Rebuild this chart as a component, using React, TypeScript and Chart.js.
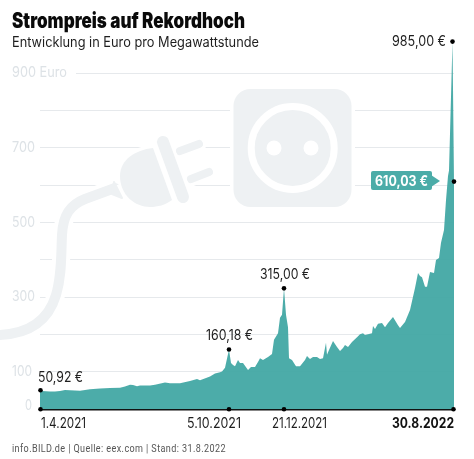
import React, { useEffect, useRef } from 'react';
import Chart from 'chart.js/auto';

// x is the position along the (non-linear) time axis, one unit = one pixel of the axis
const sessions = [
  0, 2, 10, 15, 20, 25, 30, 40, 50, 60, 70, 80, 85, 90, 93, 97, 100, 110, 115, 125, 130, 140, 150, 157, 160, 170, 175,
  180, 182, 185, 189, 191, 193, 195, 198, 200, 203, 208, 211, 215, 218, 220, 223, 228, 232, 234, 238, 240, 242, 244,
  246, 248, 249, 252, 256, 260, 265, 267, 270, 273, 277, 280, 283, 286, 287, 289, 293, 297, 300, 303, 305, 308, 312,
  317, 320, 323, 325, 332, 333, 335, 338, 342, 345, 348, 353, 358, 360, 365, 370, 375, 378, 380, 382, 385, 387, 390,
  394, 396, 399, 401, 404, 406, 408, 409, 412.5, 414,
];
const prices = [
  50.92, 49, 48, 48, 49, 52, 51, 50, 54, 56, 57, 58, 61, 66, 65, 62, 64, 64, 66, 72, 70, 70, 76, 81, 78, 88, 96,
  99, 101, 111, 160.18, 124, 119, 115, 132, 124, 124, 105, 113, 113, 127, 137, 132, 140, 148, 186, 204, 245, 253, 324,
  253, 220, 137, 132, 115, 115, 132, 143, 135, 140, 140, 135, 137, 178, 146, 159, 183, 167, 156, 164, 172, 167, 180,
  193, 201, 204, 199, 204, 223, 215, 229, 231, 220, 231, 247, 225, 218, 234, 266, 325, 365, 357, 354, 328, 328, 368,
  365, 400, 405, 446, 480, 561, 625, 640, 985, 610.03,
];

const markerSessions = [0.5, 189, 244, 412.5, 414];
const markerPrices = [50.92, 160.18, 324, 985, 610.03];
const markerLabels = ['50,92 €', '160,18 €', '315,00 €', '985,00 €', '610,03 €'];

const dateSessions = [0.5, 189, 244, 413.5];
const dateLabels = ['1.4.2021', '5.10.2021', '21.12.2021', '30.8.2022'];

const yTicks = [0, 100, 300, 500, 700, 900];
const yTickLabels = ['0', '100', '300', '500', '700', '900 Euro'];

const title = 'Strompreis auf Rekordhoch';
const subtitle = 'Entwicklung in Euro pro Megawattstunde';
const source = 'info.BILD.de | Quelle: eex.com | Stand: 31.8.2022';

const TEAL = '#4bacA8';
const ICON = '#eef1f3';
const GRID = '#e6e9ec';
const TICK = '#dde2e6';

// text squeezed or stretched to the width it has in the picture
function fitText(
  ctx: CanvasRenderingContext2D,
  text: string,
  x: number,
  y: number,
  width: number,
  font: string,
  color: string,
  spacing = '0px',
) {
  ctx.save();
  ctx.font = font;
  ctx.fillStyle = color;
  ctx.textAlign = 'left';
  ctx.textBaseline = 'alphabetic';
  (ctx as any).letterSpacing = spacing;
  const natural = ctx.measureText(text).width;
  ctx.translate(x, y);
  ctx.scale(width / natural, 1);
  ctx.fillText(text, 0, 0);
  ctx.restore();
}

function stroke(ctx: CanvasRenderingContext2D, path: Path2D, color: string, width: number) {
  ctx.strokeStyle = color;
  ctx.lineWidth = width;
  ctx.stroke(path);
}

const iconPlugin = {
  id: 'icons',
  beforeDatasetsDraw(chart: any) {
    const ctx: CanvasRenderingContext2D = chart.ctx;
    ctx.save();
    ctx.lineCap = 'round';
    ctx.lineJoin = 'round';

    const cable = new Path2D('M115 188 L85 199 C70 205 63 215 62 235 C61 255 62 275 56 295 C50 315 35 335 -5 335');
    const neck = new Path2D('M114 182 L122 198 L112 194 Z');
    const body = new Path2D('M153 148 C135 150 120 160 120 176 C120 195 135 207 150 207 C158 207 165 205 172 200 Z');
    const plate = new Path2D('M163 142 L183 197');
    const prong1 = new Path2D('M180 151 L199 144');
    const prong2 = new Path2D('M191 179 L209 172');
    const socket = new Path2D();
    socket.roundRect(233.5, 89, 118, 118, 17);

    // white halo that cuts the grid lines around the icons
    stroke(ctx, cable, '#fff', 18);
    stroke(ctx, body, '#fff', 7);
    stroke(ctx, plate, '#fff', 20);
    stroke(ctx, prong1, '#fff', 15);
    stroke(ctx, prong2, '#fff', 15);
    stroke(ctx, socket, '#fff', 7);

    stroke(ctx, cable, ICON, 10);
    ctx.fillStyle = '#fff';
    ctx.beginPath();
    ctx.arc(118, 190, 5, 0, Math.PI * 2);
    ctx.fill();
    ctx.fillStyle = ICON;
    ctx.fill(neck);
    stroke(ctx, neck, ICON, 2);
    ctx.fill(body);
    stroke(ctx, plate, '#fff', 18);
    stroke(ctx, plate, ICON, 12);
    stroke(ctx, prong1, ICON, 8);
    stroke(ctx, prong2, ICON, 8);

    ctx.fill(socket);
    ctx.strokeStyle = '#fff';
    ctx.lineWidth = 7;
    ctx.beginPath();
    ctx.arc(292.7, 148, 41.5, 0, Math.PI * 2);
    ctx.stroke();
    ctx.fillStyle = '#fff';
    [274, 311].forEach((x) => {
      ctx.beginPath();
      ctx.arc(x, 148, 7.5, 0, Math.PI * 2);
      ctx.fill();
    });

    // y labels run into the plot, so the axis box would clip them
    const yScale = chart.scales.y;
    ctx.fillStyle = '#fff';
    ctx.fillRect(39, yScale.getPixelForValue(900) - 2, 37, 4);
    const widths = [7, 20, 23, 23, 23, 55];
    yTicks.forEach((tick, i) => {
      const y = yScale.getPixelForValue(tick);
      const x = tick === 0 ? 25 : 12;
      fitText(ctx, yTickLabels[i], x, tick === 0 ? y + 1 : y + 4, widths[i], '14px Inter', TICK);
    });
    ctx.restore();
  },
};

const textPlugin = {
  id: 'texts',
  afterDatasetsDraw(chart: any) {
    const ctx: CanvasRenderingContext2D = chart.ctx;
    const font = '14px Inter';
    const dark = '#1e1e1e';

    fitText(ctx, title, 12, 28, 233, '900 21px Inter', '#0a0a0a');
    fitText(ctx, subtitle, 12, 46.5, 247, font, dark);
    fitText(ctx, source, 12, 452, 214, '11px Roboto', '#555', '0.5px');

    fitText(ctx, markerLabels[0], 38, 381.5, 45, font, dark);
    fitText(ctx, markerLabels[1], 206, 340, 47, font, dark);
    fitText(ctx, markerLabels[2], 260, 279, 50, font, dark);
    fitText(ctx, markerLabels[3], 392, 46, 54, font, dark);

    fitText(ctx, dateLabels[0], 41, 428, 45, font, dark);
    fitText(ctx, dateLabels[1], 187, 428, 54, font, dark);
    fitText(ctx, dateLabels[2], 272, 428, 55, font, dark);
    fitText(ctx, dateLabels[3], 392, 428, 62, 'bold 14px Inter', '#111');

    // badge of the current price
    ctx.save();
    ctx.fillStyle = TEAL;
    ctx.beginPath();
    ctx.roundRect(371, 171, 61, 19, 2);
    ctx.fill();
    ctx.beginPath();
    ctx.moveTo(431, 175);
    ctx.lineTo(440, 181);
    ctx.lineTo(431, 187);
    ctx.closePath();
    ctx.fill();
    ctx.restore();
    fitText(ctx, markerLabels[4], 375, 185.5, 53, 'bold 14px Inter', '#fff');
  },
};

const App: React.FC = () => {
  const canvasRef = useRef<HTMLCanvasElement>(null);

  useEffect(() => {
    const ctx = canvasRef.current?.getContext('2d');
    if (!ctx) return;

    const chart = new Chart(ctx, {
      type: 'line',
      data: {
        datasets: [
          {
            label: 'Strompreis',
            data: sessions.map((s, i) => ({ x: s, y: prices[i] })),
            backgroundColor: 'rgba(66, 168, 164, 0.95)',
            borderWidth: 0,
            pointRadius: 0,
            fill: 'origin',
            tension: 0,
            order: 2,
          },
          {
            label: 'Marken',
            data: markerSessions.map((s, i) => ({ x: s, y: markerPrices[i] })),
            showLine: false,
            pointRadius: 2.3,
            pointBorderWidth: 0,
            pointBackgroundColor: '#000',
            clip: false,
            order: 1,
          },
          {
            label: 'Datum',
            data: dateSessions.map((s) => ({ x: s, y: 0 })),
            showLine: false,
            pointRadius: 2.3,
            pointBorderWidth: 0,
            pointBackgroundColor: '#000',
            clip: false,
            order: 1,
          },
        ],
      },
      options: {
        responsive: false,
        animation: false,
        layout: { padding: { left: 12, right: 20, top: 36, bottom: 49.7 } },
        plugins: {
          legend: { display: false },
          tooltip: { enabled: false },
        },
        scales: {
          x: {
            type: 'linear',
            min: 0,
            max: 414,
            grid: { display: false },
            border: { color: '#111', width: 1.6 },
            ticks: { display: false },
            afterFit: (scale: any) => {
              scale.height = 0;
              scale.paddingLeft = 0;
              scale.paddingRight = 0;
            },
          },
          y: {
            min: 0,
            max: 1000,
            grid: {
              color: (c: any) => (c.tick.value > 900 ? 'transparent' : GRID),
              drawTicks: false,
            },
            border: { display: false },
            ticks: { stepSize: 100, autoSkip: false, display: false },
            afterFit: (scale: any) => {
              scale.width = 28;
              scale.paddingTop = 0;
              scale.paddingBottom = 0;
            },
          },
        },
      },
      plugins: [iconPlugin, textPlugin],
    } as any);

    return () => chart.destroy();
  }, []);

  return (
    <div style={{ position: 'absolute', left: 0, top: 0, width: 474, height: 459, background: '#fff' }}>
      <canvas ref={canvasRef} width={474} height={459} style={{ display: 'block' }} />
    </div>
  );
};

export default App;
